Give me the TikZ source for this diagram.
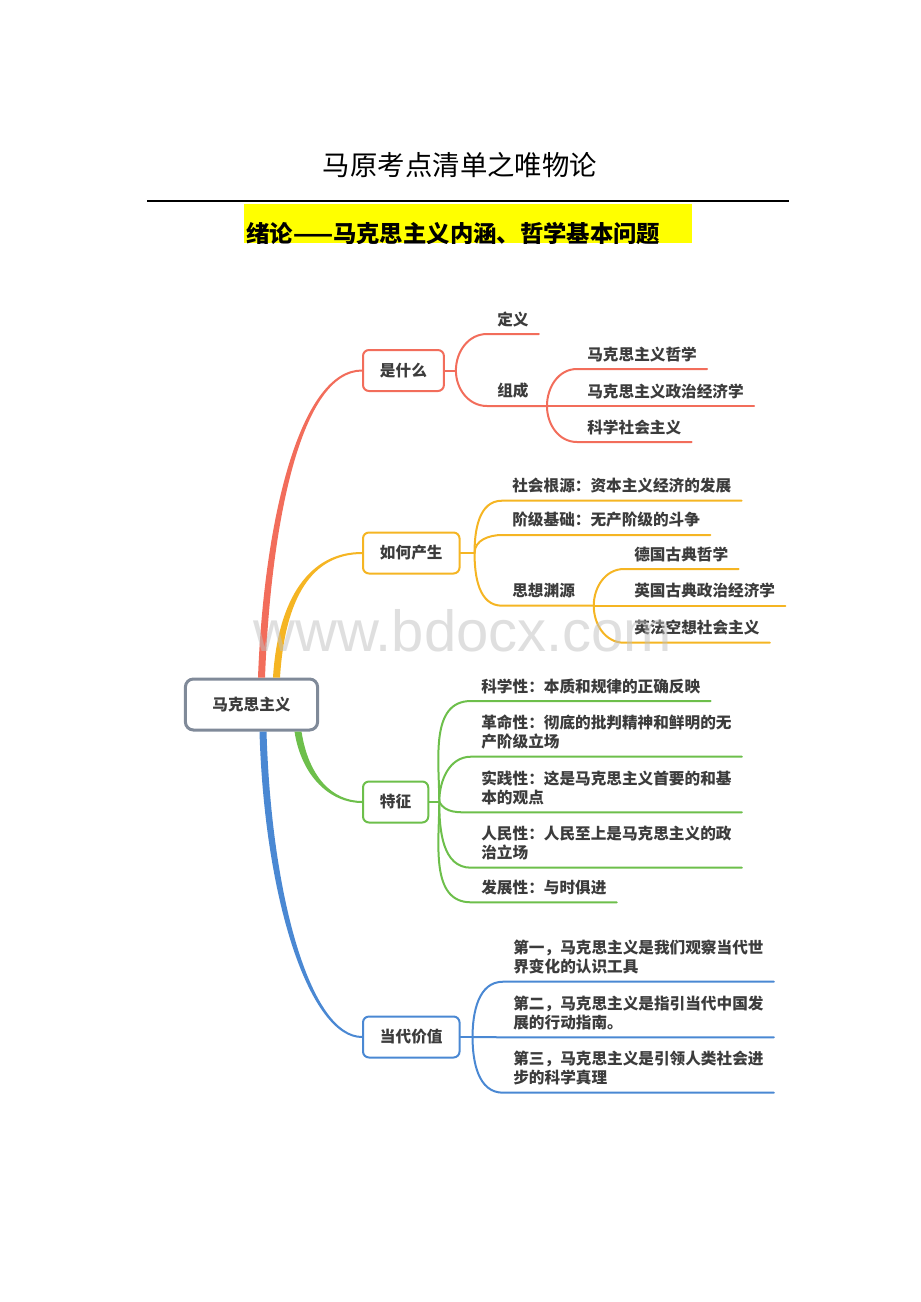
\documentclass[tikz,border=0pt]{standalone}
\usepackage{fontspec}
\setmainfont{Noto Sans CJK SC}
\newfontfamily\wmfont{Liberation Sans}
\usetikzlibrary{positioning, calc}
\definecolor{ink}{HTML}{3C3C3C}
\definecolor{rootgray}{HTML}{808A99}
\definecolor{mapred}{HTML}{F26D5B}
\definecolor{maporange}{HTML}{F5B523}
\definecolor{mapgreen}{HTML}{6DBF4B}
\definecolor{mapblue}{HTML}{4A88D3}
\definecolor{hlyellow}{HTML}{FFFF00}

\begin{document}
\begin{tikzpicture}[
  x=0.02cm, y=-0.02cm,
  txt/.style={font=\fontsize{8.9pt}{11pt}\selectfont\bfseries, text=ink},
  box/.style={txt, draw, fill=white, rounded corners=0.12cm, line width=0.04cm,
              minimum height=0.82cm, inner xsep=0.34cm, anchor=west},
  leaf/.style={txt, anchor=south west, inner xsep=0.2cm, inner ysep=0.14cm, align=left},
  ln/.style={line width=0.04cm, line cap=round},
]
  \useasboundingbox (0,0) rectangle (920,1302);

  % Title and heading
  \node[font=\fontsize{15.6pt}{18pt}\selectfont] (ttl) at (460,165) {马原考点清单之唯物论};
  \draw[line width=0.025cm] (147,201) -- (789,201);
  \fill[hlyellow] (244,204) rectangle (692,243.3);
  \begin{scope}
    \clip (244,204) rectangle (692,243.3);
    \node[anchor=base west, inner sep=0, font=\fontsize{13.3pt}{16pt}\selectfont\bfseries] (hd) at (246,242) {绪论——马克思主义内涵、哲学基本问题};
  \end{scope}

  % Root
  \node[txt, draw=rootgray, fill=white, rounded corners=0.16cm, line width=0.06cm,
        minimum height=1.02cm, inner xsep=0.54cm] (mks) at (251.5,704.5) {马克思主义};

  % Main branches
  \node[box, draw=mapred] (what) at (362,370.5) {是什么};
  \node[box, draw=maporange] (how) at (362,553) {如何产生};
  \node[box, draw=mapgreen] (feat) at (362,802) {特征};
  \node[box, draw=mapblue] (val) at (362,1037) {当代价值};

  \coordinate (rA) at ([xshift=0.2cm]mks.north);
  \coordinate (oA) at ([xshift=0.5cm]mks.north);
  \coordinate (gA) at ([xshift=0.93cm]mks.south);
  \coordinate (bA) at ([xshift=0.23cm]mks.south);

  % Root -> branches
  \fill[mapred] ([xshift=-0.07cm]rA) .. controls +(6,-159) and +(-62,0) .. ([yshift=0.02cm]what.west)
    -- ([yshift=-0.02cm]what.west) .. controls +(-60,0) and +(6,-159) .. ([xshift=0.07cm]rA) -- cycle;
  \fill[maporange] ([xshift=-0.07cm]oA) .. controls +(5,-80) and +(-52,0) .. ([yshift=0.02cm]how.west)
    -- ([yshift=-0.02cm]how.west) .. controls +(-50,0) and +(5,-80) .. ([xshift=0.07cm]oA) -- cycle;
  \fill[mapgreen] ([xshift=-0.07cm]gA) .. controls +(7,45) and +(-32,0) .. ([yshift=-0.02cm]feat.west)
    -- ([yshift=0.02cm]feat.west) .. controls +(-30,0) and +(7,45) .. ([xshift=0.07cm]gA) -- cycle;
  \fill[mapblue] ([xshift=-0.07cm]bA) .. controls +(5,170) and +(-52,0) .. ([yshift=-0.02cm]val.west)
    -- ([yshift=0.02cm]val.west) .. controls +(-50,0) and +(5,170) .. ([xshift=0.07cm]bA) -- cycle;

  % Spines
  \coordinate (s1) at ([xshift=0.22cm]what.east);
  \coordinate (s2) at ([xshift=0.28cm]how.east);
  \coordinate (s3) at ([xshift=0.2cm]feat.east);
  \coordinate (s4) at ([xshift=0.24cm]val.east);

  % Leaves: what
  \node[leaf] (dy) at (487,334) {定义};
  \node[leaf] (zc) at (487,406) {组成};
  \coordinate (s5) at ([xshift=0.16cm]zc.south east);
  \node[leaf] (zx1) at (577,369) {马克思主义哲学};
  \node[leaf] (zx2) at (577,406) {马克思主义政治经济学};
  \node[leaf] (zx3) at (577,442) {科学社会主义};

  % Leaves: how
  \node[leaf] (gy1) at (502,500.7) {社会根源：资本主义经济的发展};
  \node[leaf] (gy2) at (502,535) {阶级基础：无产阶级的斗争};
  \node[leaf] (gy3) at (502,605.7) {思想渊源};
  \coordinate (s6) at ([xshift=0.17cm]gy3.south east);
  \node[leaf] (sy1) at (624,569) {德国古典哲学};
  \node[leaf] (sy2) at (624,605.7) {英国古典政治经济学};
  \node[leaf] (sy3) at (624,642.7) {英法空想社会主义};

  % Leaves: feat
  \node[leaf] (tz1) at (471,701) {科学性：本质和规律的正确反映};
  \node[leaf] (tz2) at (471,756.7) {革命性：彻底的批判精神和鲜明的无\\产阶级立场};
  \node[leaf] (tz3) at (471,812.3) {实践性：这是马克思主义首要的和基\\本的观点};
  \node[leaf] (tz4) at (471,867.7) {人民性：人民至上是马克思主义的政\\治立场};
  \node[leaf] (tz5) at (471,902.3) {发展性：与时俱进};

  % Leaves: val
  \node[leaf] (jz1) at (503,981.7) {第一，马克思主义是我们观察当代世\\界变化的认识工具};
  \node[leaf] (jz2) at (503,1037.3) {第二，马克思主义是指引当代中国发\\展的行动指南。};
  \node[leaf] (jz3) at (503,1092.7) {第三，马克思主义是引领人类社会进\\步的科学真理};

  % Red lines
  \draw[ln, mapred] (what.east) -- (s1);
  \draw[ln, mapred] (s1) to[out=90, in=180] (dy.south west) -- (dy.south east);
  \draw[ln, mapred] (s1) to[out=-90, in=180] (zc.south west) -- (s5);
  \draw[ln, mapred] (s5) to[out=90, in=180] (zx1.south west) -- (zx1.south east);
  \draw[ln, mapred] (s5) -- (zx2.south west) -- (zx2.south east);
  \draw[ln, mapred] (s5) to[out=-90, in=180] (zx3.south west) -- (zx3.south east);

  % Orange lines
  \draw[ln, maporange] (how.east) -- (s2);
  \draw[ln, maporange] (s2) to[out=90, in=180] (gy1.south west) -- (gy1.south east);
  \draw[ln, maporange] (s2) to[out=90, in=180] (gy2.south west) -- (gy2.south east);
  \draw[ln, maporange] (s2) to[out=-90, in=180] (gy3.south west) -- (s6);
  \draw[ln, maporange] (s6) to[out=90, in=180] (sy1.south west) -- (sy1.south east);
  \draw[ln, maporange] (s6) -- (sy2.south west) -- (sy2.south east);
  \draw[ln, maporange] (s6) to[out=-90, in=180] (sy3.south west) -- (sy3.south east);

  % Green lines
  \draw[ln, mapgreen] (feat.east) -- (s3);
  \draw[ln, mapgreen] (s3) to[out=90, in=180] (tz1.south west) -- (tz1.south east);
  \draw[ln, mapgreen] (s3) to[out=90, in=180] (tz2.south west) -- (tz2.south east);
  \draw[ln, mapgreen] (s3) to[out=-60, in=180] (tz3.south west) -- (tz3.south east);
  \draw[ln, mapgreen] (s3) to[out=-90, in=180] (tz4.south west) -- (tz4.south east);
  \draw[ln, mapgreen] (s3) to[out=-90, in=180] (tz5.south west) -- (tz5.south east);

  % Blue lines
  \draw[ln, mapblue] (val.east) -- (s4);
  \draw[ln, mapblue] (s4) to[out=90, in=180] (jz1.south west) -- (jz1.south east);
  \draw[ln, mapblue] (s4) -- (jz2.south west) -- (jz2.south east);
  \draw[ln, mapblue] (s4) to[out=-90, in=180] (jz3.south west) -- (jz3.south east);

  % Watermark
  \node[anchor=base west, inner sep=0, font=\wmfont\fontsize{33pt}{36pt}\selectfont,
        text=black!25, fill opacity=0.5, text opacity=0.5] (wm) at (253,651.7) {www.bdocx.com};
\end{tikzpicture}
\end{document}
